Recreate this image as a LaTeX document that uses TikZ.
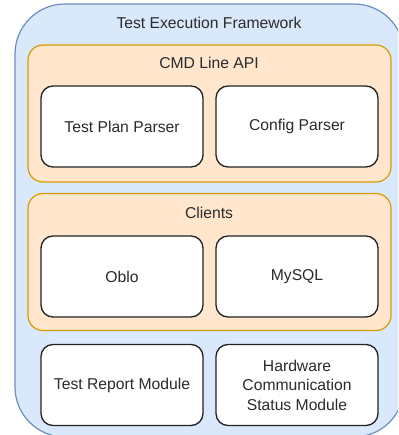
\documentclass[tikz,border=0pt]{standalone}
\usepackage{fontspec}
\setmainfont{Liberation Sans}
\definecolor{framefill}{HTML}{DAE8FC}
\definecolor{framedraw}{HTML}{6C8EBF}
\definecolor{groupfill}{HTML}{FFE6CC}
\definecolor{groupdraw}{HTML}{D79B00}
\definecolor{txt}{HTML}{2B2B2B}
\definecolor{modraw}{HTML}{222222}
\tikzset{
  frame/.style={draw=framedraw, fill=framefill, line width=1.2pt, rounded corners=50pt, inner sep=0pt},
  group/.style={draw=groupdraw, fill=groupfill, line width=1.2pt, rounded corners=15pt, inner sep=0pt,
    minimum width=363pt, minimum height=137pt},
  module/.style={draw=modraw, fill=white, line width=1.3pt, rounded corners=12pt, inner sep=2pt,
    minimum width=162pt, minimum height=81pt, align=center, text=txt, font=\fontsize{15.7}{19.5}\selectfont},
  caption/.style={text=txt, font=\fontsize{15.7}{19.5}\selectfont, inner sep=0pt}
}
\begin{document}
\begin{tikzpicture}[x=1pt, y=-1pt]
  \useasboundingbox (0,0) rectangle (398,435);
  \clip (0,0) rectangle (398,435);
  % outer framework container
  \node[frame, minimum width=389pt, minimum height=433pt] (fw) at (209.5,220.5) {};
  \node[caption] (fwtitle) at (209,23) {Test Execution Framework};
  % command line group
  \node[group] (cmd) at (209.5,113.5) {};
  \node[caption] (cmdtitle) at (209,63) {CMD Line API};
  \node[module] (tpp) at (122,126.5) {Test Plan Parser};
  \node[module] (cfg) at (297,126.5) {Config Parser};
  % clients group
  \node[group] (cli) at (209.5,262) {};
  \node[caption] (clititle) at (209,213) {Clients};
  \node[module] (oblo) at (122,276.5) {Oblo};
  \node[module] (mysql) at (297,276.5) {MySQL};
  % standalone modules
  \node[module] (report) at (122,385) {Test Report Module};
  \node[module] (hw) at (297,385) {Hardware\\Communication\\Status Module};
\end{tikzpicture}
\end{document}
